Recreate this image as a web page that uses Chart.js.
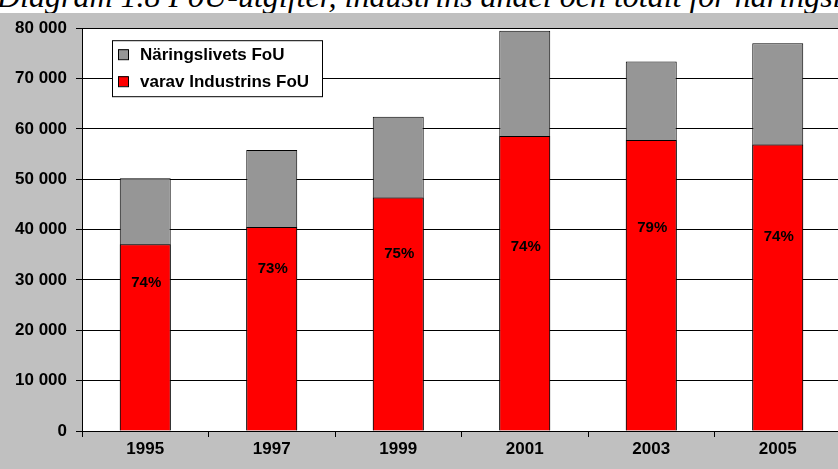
<!DOCTYPE html>
<html>
  <head>
    <meta charset="utf-8">
    <title>FoU-utgifter</title>
    <style>
      html, body { margin: 0; padding: 0; }
      body { width: 838px; height: 469px; overflow: hidden; background: #c0c0c0; position: relative; }
      .rubrik { position: absolute; top: 0; left: 0; width: 838px; height: 13px; overflow: hidden; background: #fff; }
      .rubrik span { position: absolute; left: -3px; top: -20px; white-space: nowrap;
        font: italic 32px/32px "Liberation Serif", "Times New Roman", serif; color: #000; }
      .ruta { position: absolute; top: 9px; left: 0; width: 845px; height: 460px; }
    </style>
  </head>
  <body>
    <div class="rubrik"><span>Diagram 1.8 FoU-utgifter, industrins andel och totalt för näringslivet</span></div>
    <div class="ruta"><canvas id="chart1" width="845" height="460"></canvas></div>

    <script src="https://cdn.jsdelivr.net/npm/chart.js@4/dist/chart.umd.min.js"></script>
    <script>
      // data
      const years = ['1995', '1997', '1999', '2001', '2003', '2005']
      const naringslivet = [50200, 55800, 62400, 79500, 73400, 77000]
      const industrin = [37100, 40500, 46400, 58600, 57800, 56900]
      const andelar = ['74%', '73%', '75%', '74%', '79%', '74%']
      // where the percentage texts sit, in y-axis units
      const andelNiva = [29500, 32300, 35100, 36500, 40300, 38500]
      const yTicks = [0, 10000, 20000, 30000, 40000, 50000, 60000, 70000, 80000]

      const font = '"Liberation Sans", Arial, sans-serif'

      function tusental(v) {
        return String(v).replace(/\B(?=(\d{3})+(?!\d))/g, ' ')
      }

      // white plot background
      const plotBg = {
        id: 'plotBg',
        beforeDraw(chart) {
          const a = chart.chartArea
          const ctx = chart.ctx
          ctx.save()
          ctx.fillStyle = '#ffffff'
          ctx.fillRect(a.left, a.top, a.right - a.left, a.bottom - a.top)
          ctx.restore()
        }
      }

      // percent labels on the red bars
      const andelText = {
        id: 'andelText',
        afterDatasetsDraw(chart) {
          const ctx = chart.ctx
          const meta = chart.getDatasetMeta(1)
          const y = chart.scales.y
          ctx.save()
          ctx.font = 'bold 15px ' + font
          ctx.fillStyle = '#000'
          ctx.textAlign = 'center'
          ctx.textBaseline = 'middle'
          andelar.forEach((t, i) => {
            ctx.fillText(t, meta.data[i].x + 1, y.getPixelForValue(andelNiva[i]))
          })
          ctx.restore()
        }
      }

      // legend box with border, inside the plot
      const forklaring = {
        id: 'forklaring',
        afterDraw(chart) {
          const ctx = chart.ctx
          const a = chart.chartArea
          const x = a.left + 30, y = a.top + 12, w = 210, h = 56
          ctx.save()
          ctx.fillStyle = '#fff'
          ctx.fillRect(x, y, w, h)
          ctx.strokeStyle = '#000'
          ctx.lineWidth = 1
          ctx.strokeRect(x + 0.5, y + 0.5, w, h)
          ctx.font = 'bold 17px ' + font
          ctx.textBaseline = 'middle'
          chart.data.datasets.forEach((ds, i) => {
            const cy = y + 14 + i * 27
            ctx.fillStyle = ds.backgroundColor
            ctx.fillRect(x + 6, cy - 5, 10, 10)
            ctx.strokeStyle = '#000'
            ctx.strokeRect(x + 6.5, cy - 4.5, 10, 10)
            ctx.fillStyle = '#000'
            ctx.fillText(ds.label, x + 28, cy + 1)
          })
          ctx.restore()
        }
      }

      var ctx = document.getElementById('chart1').getContext('2d')
      var chart1 = new Chart(ctx, {
        type: 'bar',
        data: {
          labels: years,
          datasets: [{
            label: 'Näringslivets FoU',
            data: naringslivet,
            backgroundColor: '#969696',
            borderColor: '#000',
            borderWidth: 1,
            grouped: false,
            order: 2
          }, {
            label: 'varav Industrins FoU',
            data: industrin,
            backgroundColor: '#ff0000',
            borderColor: '#000',
            borderWidth: 1,
            grouped: false,
            order: 1
          }]
        },
        options: {
          responsive: false,
          animation: false,
          layout: { padding: { top: 10, right: 4, left: 0, bottom: 0 } },
          datasets: {
            bar: { categoryPercentage: 1, barPercentage: 0.403 }
          },
          plugins: {
            legend: { display: false },
            tooltip: { enabled: false }
          },
          scales: {
            x: {
              offset: true,
              grid: { display: true, drawOnChartArea: false, offset: true, color: '#000', tickLength: 6 },
              border: { color: '#000', width: 1 },
              ticks: { color: '#000', font: { family: font, size: 17, weight: 'bold' }, padding: 2, maxRotation: 0 },
              afterFit(s) { s.height = 38 }
            },
            y: {
              min: 0,
              max: 80000,
              afterBuildTicks(s) { s.ticks = yTicks.map(v => ({ value: v })) },
              grid: { color: '#000', lineWidth: 1, tickLength: 6 },
              border: { color: '#000', width: 1 },
              ticks: {
                color: '#000',
                font: { family: font, size: 17, weight: 'bold' },
                padding: 9,
                callback: (v) => tusental(v)
              },
              afterFit(s) { s.width = 82 }
            }
          }
        },
        plugins: [plotBg, andelText, forklaring]
      })
    </script>
  </body>
</html>
